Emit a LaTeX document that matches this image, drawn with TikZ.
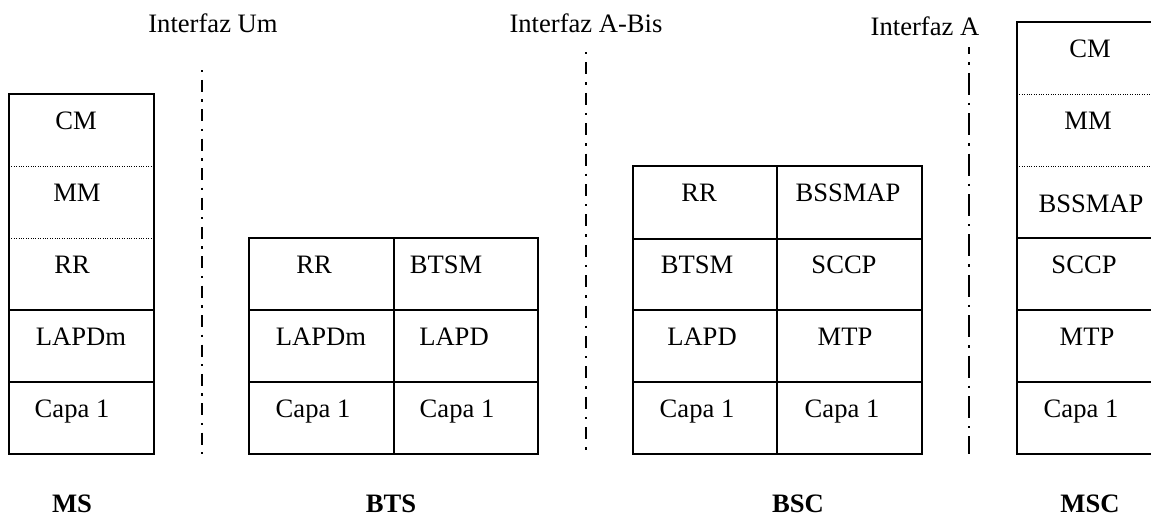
\documentclass[tikz,border=0pt]{standalone}
\usepackage{fontspec}
\setmainfont{Liberation Serif}
\begin{document}
\begin{tikzpicture}[x=1pt,y=-1pt,
  frame/.style={draw=black, line width=2.2pt, line join=miter},
  sep/.style={draw=black, line width=1pt, dash pattern=on 1pt off 1.4pt},
  iface/.style={draw=black, line width=2.4pt},
  lbl/.style={anchor=base, inner sep=0pt, font=\fontsize{26.6}{30}\selectfont},
  entity/.style={anchor=base, inner sep=0pt, font=\fontsize{26.6}{30}\selectfont\bfseries}]
\useasboundingbox (0,0) rectangle (1151,517);

% ---------- MS protocol stack ----------
\draw[frame] (9,94) rectangle (154,454);
\draw[sep] (9,166) -- (154,166);
\draw[sep] (9,238) -- (154,238);
\draw[frame] (9,310) -- (154,310);
\draw[frame] (9,382) -- (154,382);
\node[lbl] (msCM)   at (76,129)  {CM};
\node[lbl] (msMM)   at (77,201)  {MM};
\node[lbl] (msRR)   at (72,273)  {RR};
\node[lbl] (msLAP)  at (81,345)  {LAPDm};
\node[lbl] (msL1)   at (72,417)  {Capa 1};

% ---------- BTS protocol stack ----------
\draw[frame] (249,238) rectangle (538,454);
\draw[frame] (394,238) -- (394,454);
\draw[frame] (249,310) -- (538,310);
\draw[frame] (249,382) -- (538,382);
\node[lbl] (btsRR)   at (314,273) {RR};
\node[lbl] (btsBTSM) at (446,273) {BTSM};
\node[lbl] (btsLAPm) at (321,345) {LAPDm};
\node[lbl] (btsLAP)  at (454,345) {LAPD};
\node[lbl] (btsL1a)  at (313,417) {Capa 1};
\node[lbl] (btsL1b)  at (457,417) {Capa 1};

% ---------- BSC protocol stack ----------
\draw[frame] (633,166) rectangle (922,454);
\draw[frame] (777,166) -- (777,454);
\draw[frame] (633,239) -- (922,239);
\draw[frame] (633,310) -- (922,310);
\draw[frame] (633,382) -- (922,382);
\node[lbl] (bscRR)   at (699,201) {RR};
\node[lbl] (bscBSS)  at (848,201) {BSSMAP};
\node[lbl] (bscBTSM) at (697,273) {BTSM};
\node[lbl] (bscSCCP) at (844,273) {SCCP};
\node[lbl] (bscLAP)  at (702,345) {LAPD};
\node[lbl] (bscMTP)  at (845,345) {MTP};
\node[lbl] (bscL1a)  at (697,417) {Capa 1};
\node[lbl] (bscL1b)  at (842,417) {Capa 1};

% ---------- MSC protocol stack (runs off the right edge) ----------
\draw[frame] (1170,22) -- (1017,22) -- (1017,454) -- (1170,454);
\draw[sep] (1017,94) -- (1160,94);
\draw[sep] (1017,166) -- (1160,166);
\draw[frame] (1017,238) -- (1170,238);
\draw[frame] (1017,310) -- (1170,310);
\draw[frame] (1017,382) -- (1170,382);
\node[lbl] (mscCM)   at (1090,57)  {CM};
\node[lbl] (mscMM)   at (1088,129) {MM};
\node[lbl] (mscBSS)  at (1091,212) {BSSMAP};
\node[lbl] (mscSCCP) at (1084,273) {SCCP};
\node[lbl] (mscMTP)  at (1087,345) {MTP};
\node[lbl] (mscL1)   at (1081,417) {Capa 1};

% ---------- interfaces ----------
\coordinate (umTop) at (202,70);
\coordinate (umBot) at (202,454);
\coordinate (abTop) at (586,52);
\coordinate (abBot) at (586,454);
\coordinate (aTop)  at (969,47);
\coordinate (aBot)  at (969,454);
\draw[iface, dash pattern=on 2.4pt off 7.5pt on 12pt off 7.5pt] (umTop) -- (umBot);
\draw[iface, dash pattern=on 2.4pt off 8pt on 12pt off 8pt] (abTop) -- (abBot);
\draw[iface, dash pattern=on 2.4pt off 8pt on 22pt off 8pt, dash phase=25pt] (aTop) -- (aBot);
\node[lbl] (ifUm) at (213,32) {Interfaz Um};
\node[lbl] (ifAb) at (586,32) {Interfaz A-Bis};
\node[lbl] (ifA)  at (925,35) {Interfaz A};

% ---------- entity names ----------
\node[entity] (nMS)  at (72,512)   {MS};
\node[entity] (nBTS) at (391,512)  {BTS};
\node[entity] (nBSC) at (798,512)  {BSC};
\node[entity] (nMSC) at (1090,512) {MSC};
\end{tikzpicture}
\end{document}
